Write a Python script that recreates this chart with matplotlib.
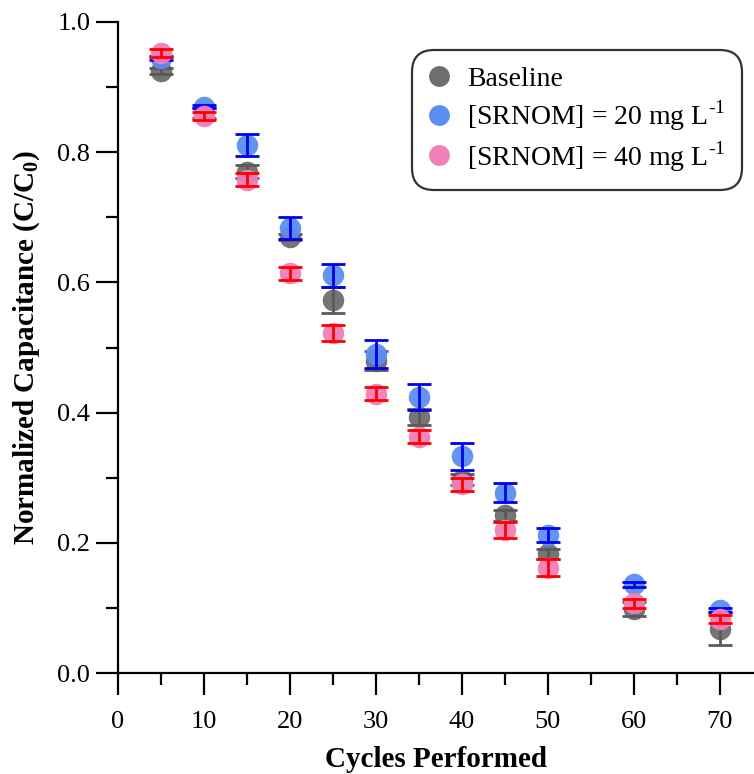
import matplotlib
matplotlib.use("Agg")
import matplotlib.pyplot as plt
from matplotlib.lines import Line2D

plt.rcParams['font.family'] = ['Liberation Serif', 'DejaVu Serif']
plt.rcParams['mathtext.fontset'] = 'custom'
plt.rcParams['mathtext.rm'] = 'Liberation Serif'
plt.rcParams['mathtext.bf'] = 'Liberation Serif:bold'

cycles = [5, 10, 15, 20, 25, 30, 35, 40, 45, 50, 60, 70]
baseline = [0.925, 0.860, 0.770, 0.670, 0.573, 0.480, 0.393, 0.297, 0.242, 0.183, 0.098, 0.068]
baseline_err = [0.005, 0.008, 0.010, 0.005, 0.020, 0.015, 0.012, 0.008, 0.008, 0.008, 0.011, 0.025]
srnom20 = [0.945, 0.870, 0.811, 0.684, 0.611, 0.490, 0.424, 0.333, 0.277, 0.212, 0.136, 0.097]
srnom20_err = [0.003, 0.002, 0.017, 0.017, 0.018, 0.022, 0.020, 0.021, 0.015, 0.011, 0.004, 0.003]
srnom40 = [0.953, 0.855, 0.758, 0.614, 0.522, 0.429, 0.363, 0.290, 0.220, 0.162, 0.107, 0.083]
srnom40_err = [0.006, 0.006, 0.010, 0.010, 0.012, 0.010, 0.010, 0.010, 0.012, 0.013, 0.007, 0.006]

labels = ['Baseline', r'[SRNOM] = 20 mg L$^{\text{-}1}$', r'[SRNOM] = 40 mg L$^{\text{-}1}$']
marker_colors = ['#6e6e6e', '#5b8ef2', '#f27fb8']
bar_colors = ['#5a5a5a', '#0000f0', '#ff0000']

fig = plt.figure(figsize=(7.54, 7.74), dpi=100)
ax = fig.add_axes([118/754, 1-673/774, 1-118/754, (673-22)/774])

series = [(baseline, baseline_err), (srnom20, srnom20_err), (srnom40, srnom40_err)]
for i, (vals, errs) in enumerate(series):
    ax.plot(cycles, vals, 'o', ms=15.5, color=marker_colors[i], alpha=0.95,
            mec='none', zorder=2 + i)
    ax.errorbar(cycles, vals, yerr=errs, fmt='none', ecolor=bar_colors[i],
                elinewidth=2.0, capsize=8.5, capthick=2.0, zorder=2.5 + i)

ax.set_xlim(0, 74)
ax.set_ylim(0, 1.0)
ax.set_xticks(range(0, 71, 10))
ax.set_xticks(range(5, 71, 10), minor=True)
ax.set_yticks([0.0, 0.2, 0.4, 0.6, 0.8, 1.0])
ax.set_yticks([0.1, 0.3, 0.5, 0.7, 0.9], minor=True)
ax.set_yticklabels(['0.0', '0.2', '0.4', '0.6', '0.8', '1.0'])
ax.tick_params(which='major', length=16, width=1.6, labelsize=19, pad=4)
ax.tick_params(which='minor', length=8.5, width=1.6)
ax.tick_params(axis='x', which='major', pad=11)
for s in ['top', 'right']:
    ax.spines[s].set_visible(False)
for s in ['left', 'bottom']:
    ax.spines[s].set_linewidth(1.6)

ax.set_xlabel('Cycles Performed', fontsize=21, fontweight='bold', labelpad=10)
ax.set_ylabel(r'Normalized Capacitance (C/C$_\mathbf{0}$)', fontsize=21,
              fontweight='bold', labelpad=11)

handles = [Line2D([], [], ls='none', marker='o', ms=15, color=c, mec='none')
           for c in marker_colors]
leg = ax.legend(handles, labels, loc='upper right', bbox_to_anchor=(0.981, 0.957),
                borderaxespad=0, fontsize=20, frameon=True, fancybox=True,
                handlelength=0.8, handletextpad=0.6, labelspacing=0.22,
                borderpad=0.6)
leg.get_frame().set_edgecolor('black')
leg.get_frame().set_linewidth(1.6)
leg.get_frame().set_boxstyle('round,pad=0.0,rounding_size=0.8')

fig.savefig('out.png', dpi=100)
